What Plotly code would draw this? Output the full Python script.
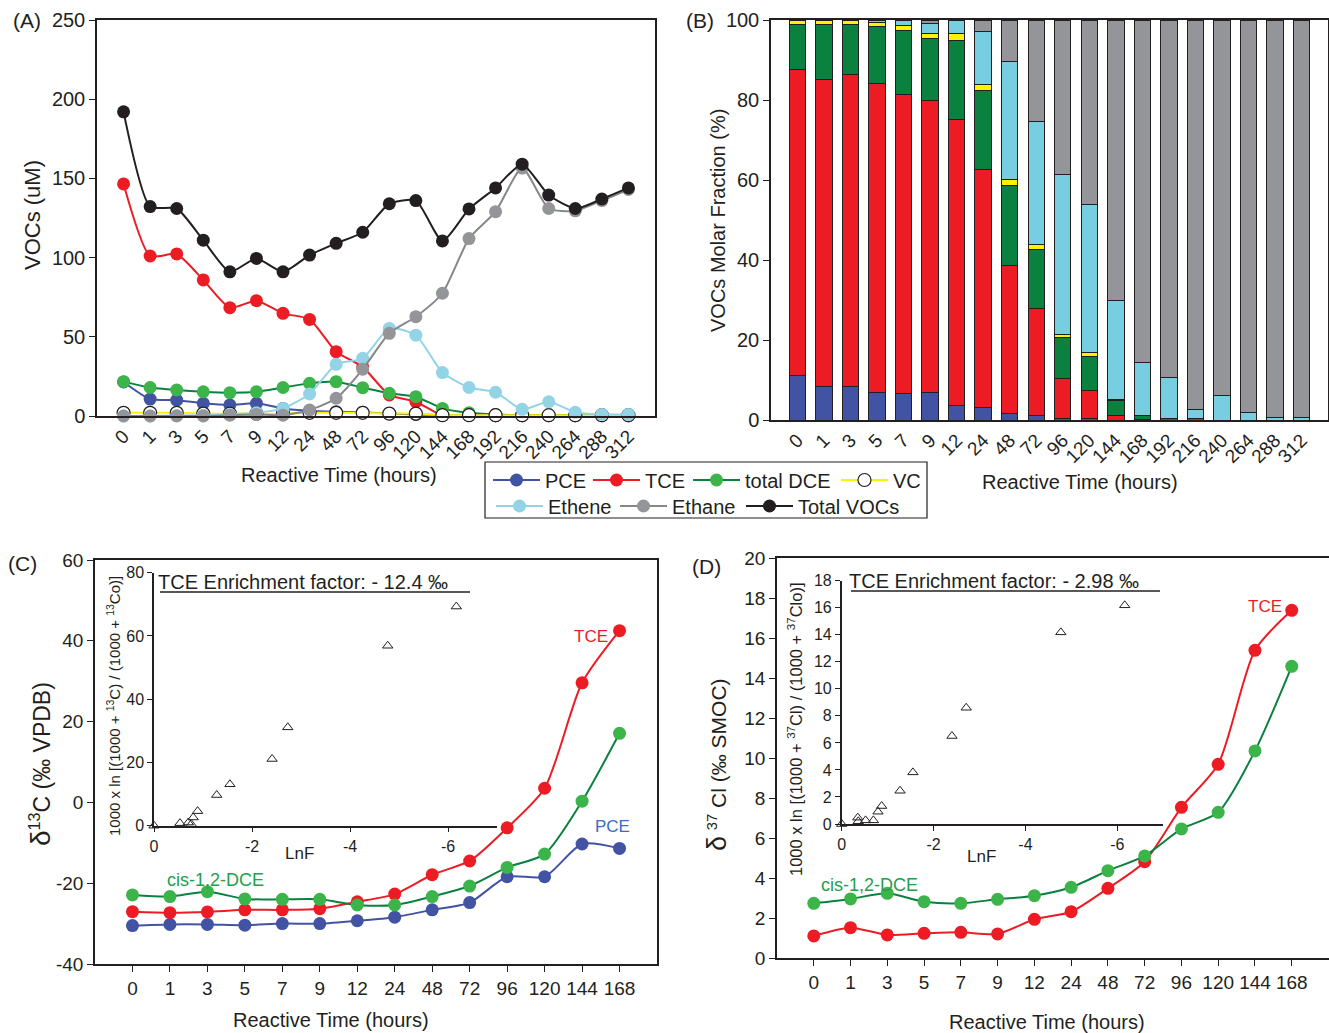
import plotly.graph_objects as go

W, H = 1329, 1033
def X(px): return px / W
def Y(py): return 1 - py / H

FONT = "Liberation Sans, Arial, Helvetica, sans-serif"
INK = "#231f20"

# ---------------- data ----------------
times_A = ['0', '1', '3', '5', '7', '9', '12', '24', '48', '72', '96', '120',
           '144', '168', '192', '216', '240', '264', '288', '312']
pce_A = [21.5, 10.7, 10.0, 8.0, 7.0, 8.0, 4.8, 3.3, 2.7, 2.3, 1.5, 1.0, 0.5, 0.3, 0.2, 0.2, 0.2, 0.2, 0.2, 0.2]
tce_A = [146.5, 101, 102.3, 85.9, 68.4, 72.8, 64.8, 61, 40.6, 31, 13.3, 9, 0.3, 0.3, 0.2, 0.2, 0.2, 0.2, 0.2, 0.2]
dce_A = [21.7, 18, 16.4, 15.3, 14.7, 15.3, 18, 20.6, 21.7, 17.9, 14.3, 12.2, 4.8, 2.0, 1.0, 0.5, 0.5, 0.5, 0.5, 0.5]
vc_A = [2, 2, 2, 1.5, 1.5, 1.5, 1.5, 2, 2, 2, 1.5, 1.5, 0.5, 0.5, 0.5, 0.5, 0.5, 0.5, 0.5, 0.5]
ethene_A = [0, 0, 0.3, 0.5, 1, 2, 4.8, 13.9, 32.6, 36.4, 55.3, 51, 27.4, 18, 15, 4.2, 9, 2.3, 1, 1]
ethane_A = [0, 0, 0, 0, 0.5, 1, 0.5, 3.8, 11.2, 29.5, 52.2, 62.7, 77.5, 112, 129, 156.5, 131, 129.5, 136, 143]
total_A = [192, 132.2, 131, 111, 91, 99.5, 91, 101.6, 109, 116, 134, 136, 110.5, 130.7, 144, 159, 139.5, 131, 137, 144]
yticks_A = [0, 50, 100, 150, 200, 250]

# molar fractions (%) for panel B
pce_B = [11.2, 8.3, 8.3, 6.9, 6.7, 7.0, 3.6, 3.1, 1.7, 1.25, 0.5, 0.3, 0, 0, 0, 0, 0, 0, 0, 0]
tce_B = [76.4, 76.9, 78.0, 77.3, 74.7, 73.0, 71.6, 59.6, 37.0, 26.65, 9.9, 7.2, 1.25, 0.2, 0, 0, 0, 0, 0, 0]
dce_B = [11.4, 13.8, 12.7, 14.1, 16.1, 15.4, 19.8, 19.8, 20.0, 14.85, 10.3, 8.5, 3.75, 0.9, 0.4, 0.3, 0, 0, 0, 0]
vc_B = [1.0, 1.0, 1.0, 1.0, 1.1, 1.2, 1.7, 1.5, 1.5, 1.2, 0.6, 0.8, 0.2, 0.1, 0.1, 0, 0, 0, 0, 0]
ethene_B = [0, 0, 0, 0.7, 1.4, 2.6, 3.3, 13.1, 29.35, 30.65, 40.1, 37.2, 24.6, 13.2, 10.2, 2.4, 6.25, 1.8, 0.6, 0.7]
ethane_B = [0, 0, 0, 0, 0, 0.8, 0, 2.9, 10.4, 25.4, 38.6, 46, 70.2, 85.5, 89.2, 97.3, 93.75, 98.2, 99.4, 99.3]

times_CD = ['0', '1', '3', '5', '7', '9', '12', '24', '48', '72', '96', '120', '144', '168']
tce_C = [-27.05, -27.3, -27.1, -26.6, -26.6, -26.3, -24.6, -22.7, -17.9, -14.5, -6.3, 3.5, 29.6, 42.5]
dce_C = [-22.9, -23.3, -22.1, -23.9, -24.0, -24.0, -25.4, -25.4, -23.3, -20.7, -16.1, -12.8, 0.3, 17.1]
pce_C = [-30.5, -30.2, -30.2, -30.4, -30.0, -30.0, -29.3, -28.4, -26.6, -24.8, -18.4, -18.4, -10.3, -11.4]
yticks_C = [-40, -20, 0, 20, 40, 60]

lnF_C = [0, -0.53, -0.70, -0.76, -0.80, -0.89, -1.28, -1.55, -2.41, -2.73, -4.77, -6.17]
enr_C = [0, 0.8, 1.0, 0.5, 2.6, 4.6, 9.7, 13.1, 21.1, 31.1, 56.9, 69.3]
inset_xticks = [0, -2, -4, -6]

tce_D = [1.12, 1.53, 1.17, 1.25, 1.3, 1.22, 1.95, 2.33, 3.5, 4.83, 7.55, 9.7, 15.4, 17.4]
dce_D = [2.75, 2.97, 3.25, 2.83, 2.75, 2.95, 3.13, 3.55, 4.38, 5.12, 6.47, 7.3, 10.37, 14.6]

lnF_D = [0, -0.35, -0.36, -0.52, -0.69, -0.79, -0.87, -1.27, -1.55, -2.40, -2.71, -4.77, -6.16]
enr_D = [0, 0.47, 0.2, 0.27, 0.27, 0.91, 1.33, 2.46, 3.82, 6.51, 8.6, 14.18, 16.18]

# ---------------- colours ----------------
BLUE = "#4353a4"
RED = "#ed1c24"
DGREEN = "#0b8140"
LGREEN = "#3bb44a"
YELLOW = "#fff200"
LBLUE_L = "#92d4e6"
LBLUE_B = "#76cee0"
GRAY_L = "#86878a"
GRAY_M = "#939598"
BLACK = "#231f20"

def lab(v):
    return str(v).replace("−", "-")

fig = go.Figure()

# ---------------- panel A ----------------
seriesA = [
    ("PCE", pce_A, BLUE, BLUE, None, "legend"),
    ("TCE", tce_A, RED, RED, None, "legend2"),
    ("total DCE", dce_A, DGREEN, LGREEN, None, "legend3"),
    ("VC", vc_A, YELLOW, "white", BLACK, "legend4"),
    ("Ethene", ethene_A, LBLUE_L, LBLUE_L, None, "legend5"),
    ("Ethane", ethane_A, GRAY_L, GRAY_M, None, "legend6"),
    ("Total VOCs", total_A, BLACK, BLACK, None, "legend7"),
]
for name, vals, lc, mc, ml, lg in seriesA:
    fig.add_trace(go.Scatter(
        x=times_A, y=vals, name=name, mode="lines+markers",
        line=dict(color=lc, width=2, shape="spline", smoothing=0.6),
        marker=dict(color=mc, size=13,
                    line=dict(color=ml if ml else mc, width=1.2 if ml else 0)),
        xaxis="x", yaxis="y", legend=lg, cliponaxis=False))

# ---------------- panel B ----------------
for name, vals, col in [("PCE", pce_B, BLUE), ("TCE", tce_B, RED), ("total DCE", dce_B, DGREEN),
                        ("VC", vc_B, YELLOW), ("Ethene", ethene_B, LBLUE_B), ("Ethane", ethane_B, GRAY_M)]:
    fig.add_trace(go.Bar(
        x=times_A, y=vals, name=name, width=0.62,
        marker=dict(color=col, line=dict(color=INK, width=1)),
        xaxis="x2", yaxis="y2", showlegend=False))

# ---------------- panel C ----------------
for name, vals, lc, mc in [("PCE", pce_C, BLUE, BLUE), ("TCE", tce_C, RED, RED),
                           ("cis-1,2-DCE", dce_C, DGREEN, LGREEN)]:
    fig.add_trace(go.Scatter(
        x=times_CD, y=vals, name=name, mode="lines+markers",
        line=dict(color=lc, width=2, shape="spline", smoothing=0.7),
        marker=dict(color=mc, size=13), xaxis="x3", yaxis="y3",
        showlegend=False, cliponaxis=False))

fig.add_trace(go.Scatter(
    x=lnF_C, y=enr_C, mode="markers",
    marker=dict(symbol="triangle-up-open", size=9, color=INK, line=dict(width=1)),
    xaxis="x4", yaxis="y4", showlegend=False, cliponaxis=False))

# ---------------- panel D ----------------
for name, vals, lc, mc in [("TCE", tce_D, RED, RED), ("cis-1,2-DCE", dce_D, DGREEN, LGREEN)]:
    fig.add_trace(go.Scatter(
        x=times_CD, y=vals, name=name, mode="lines+markers",
        line=dict(color=lc, width=2, shape="spline", smoothing=0.7),
        marker=dict(color=mc, size=13), xaxis="x5", yaxis="y5",
        showlegend=False, cliponaxis=False))

fig.add_trace(go.Scatter(
    x=lnF_D, y=enr_D, mode="markers",
    marker=dict(symbol="triangle-up-open", size=9, color=INK, line=dict(width=1)),
    xaxis="x6", yaxis="y6", showlegend=False, cliponaxis=False))

# ---------------- axes ----------------
TF = dict(size=19, color=INK, family=FONT)
TFI = dict(size=16, color=INK, family=FONT)

def ax(**kw):
    base = dict(showline=True, linecolor=INK, linewidth=1.5, showgrid=False, zeroline=False,
                tickfont=TF, ticks="outside", ticklen=6, tickwidth=1.2, tickcolor=INK)
    base.update(kw)
    return base

fig.update_layout(
    xaxis=ax(domain=[X(97), X(655)], anchor="y", type="category", range=[-1, 20],
             tickangle=-45, mirror=True, ticks=""),
    yaxis=ax(domain=[Y(416), Y(20)], anchor="x", range=[0, 250], tickvals=yticks_A,
             mirror=True, tickfont=dict(size=20, color=INK, family=FONT)),
    xaxis2=ax(domain=[X(771), X(1328)], anchor="y2", type="category", range=[-1, 20],
              tickangle=-45, mirror=True, ticks=""),
    yaxis2=ax(domain=[Y(420), Y(20)], anchor="x2", range=[0, 100], dtick=20, mirror=True,
              tickfont=dict(size=20, color=INK, family=FONT)),
    xaxis3=ax(domain=[X(95), X(657)], anchor="y3", type="category", range=[-1, 14], mirror=True),
    yaxis3=ax(domain=[Y(964), Y(560)], anchor="x3", range=[-40, 60], tickvals=yticks_C,
              ticktext=[lab(v) for v in yticks_C], mirror=True),
    xaxis4=ax(domain=[X(154), X(497)], anchor="y4", range=[0, -7], tickvals=inset_xticks,
              ticktext=[lab(v) for v in inset_xticks], ticklen=5, tickfont=TFI),
    yaxis4=ax(domain=[Y(825.7), Y(572.7)], anchor="x4", range=[0, 80], dtick=20,
              ticklen=5, tickfont=TFI),
    xaxis5=ax(domain=[X(777), X(1328.5)], anchor="y5", type="category", range=[-1, 14], mirror=True),
    yaxis5=ax(domain=[Y(958.3), Y(558.3)], anchor="x5", range=[0, 20], dtick=2, mirror=True),
    xaxis6=ax(domain=[X(841.7), X(1163.3)], anchor="y6", range=[0, -7], tickvals=inset_xticks,
              ticktext=[lab(v) for v in inset_xticks], ticklen=5, tickfont=TFI),
    yaxis6=ax(domain=[Y(824), Y(580.7)], anchor="x6", range=[0, 18], dtick=2,
              ticklen=5, tickfont=TFI),
)

# ---------------- legends (one per entry, placed like the reference box) ----------------
leg_pos = {  # legend id: (marker centre x, row centre y) in pixels
    "legend": (508, 480), "legend2": (608, 480), "legend3": (708, 480), "legend4": (856, 480),
    "legend5": (511, 506), "legend6": (635, 506), "legend7": (761, 506),
}
for lg, (cx, cy) in leg_pos.items():
    fig.update_layout({lg: dict(x=X(cx - 20), y=Y(cy), xref="container", yref="container",
                                xanchor="left", yanchor="middle",
                                orientation="h", bgcolor="rgba(0,0,0,0)", borderwidth=0,
                                itemwidth=47, font=dict(size=20, color=INK, family=FONT))})

shapes = [
    dict(type="rect", xref="paper", yref="paper", x0=X(485), x1=X(927), y0=Y(518), y1=Y(462),
         line=dict(color=INK, width=1.2)),
    dict(type="line", xref="paper", yref="paper", x0=X(160), x1=X(470), y0=Y(592), y1=Y(592),
         line=dict(color=INK, width=1.5)),
    dict(type="line", xref="paper", yref="paper", x0=X(851), x1=X(1160), y0=Y(591), y1=Y(591),
         line=dict(color=INK, width=1.5)),
]

def ann(text, px, py, size=18, color=INK, angle=0, xanchor="center"):
    return dict(text=text, x=X(px), y=Y(py), xref="paper", yref="paper", showarrow=False,
                xanchor=xanchor, yanchor="middle", textangle=angle,
                font=dict(size=size, color=color, family=FONT))

annotations = [
    ann("(A)", 27, 20, size=21), ann("(B)", 700, 20, size=21),
    ann("(C)", 22, 563, size=21), ann("(D)", 706, 566, size=21),
    ann("VOCs (uM)", 33, 215, size=22, angle=-90),
    ann("VOCs Molar Fraction (%)", 718, 220, size=20, angle=-90),
    ann("Reactive Time (hours)", 339, 475, size=20), ann("Reactive Time (hours)", 1080, 482, size=20),
    ann("Reactive Time (hours)", 331, 1020, size=20), ann("Reactive Time (hours)", 1047, 1022, size=20),
    ann("<span style='font-size:28px'>δ</span><sup>13</sup>C (‰ VPDB)", 40, 764, size=23, angle=-90),
    ann("<span style='font-size:27px'>δ</span> <sup>37</sup> Cl (‰ SMOC)", 717, 765, size=21, angle=-90),
    ann("1000 x ln [(1000 + <sup>13</sup>C) / (1000 + <sup>13</sup>Co)]", 113, 706, size=15, angle=-90),
    ann("1000 x ln [(1000 + <sup>37</sup>Cl) / (1000 + <sup>37</sup>Clo)]", 795, 729, size=16.5, angle=-90),
    ann("LnF", 299, 853, size=17), ann("LnF", 981, 856, size=17),
    ann("TCE Enrichment factor: - 12.4 ‰", 156, 582, size=20, xanchor="left"),
    ann("TCE Enrichment factor: - 2.98 ‰", 847, 581, size=20, xanchor="left"),
    ann("TCE", 591, 636, size=17, color=RED), ann("PCE", 612, 826, size=17, color="#3b6cc4"),
    ann("cis-1,2-DCE", 215, 880, size=18, color="#22a04b"),
    ann("TCE", 1265, 606, size=17, color=RED),
    ann("cis-1,2-DCE", 869, 885, size=18, color="#22a04b"),
]

fig.update_layout(
    width=W, height=H, margin=dict(l=0, r=0, t=0, b=0, autoexpand=False),
    paper_bgcolor="white", plot_bgcolor="rgba(0,0,0,0)",
    font=dict(family=FONT, color=INK), barmode="stack", bargap=0.38,
    shapes=shapes, annotations=annotations,
)

fig.write_html("out.html")
